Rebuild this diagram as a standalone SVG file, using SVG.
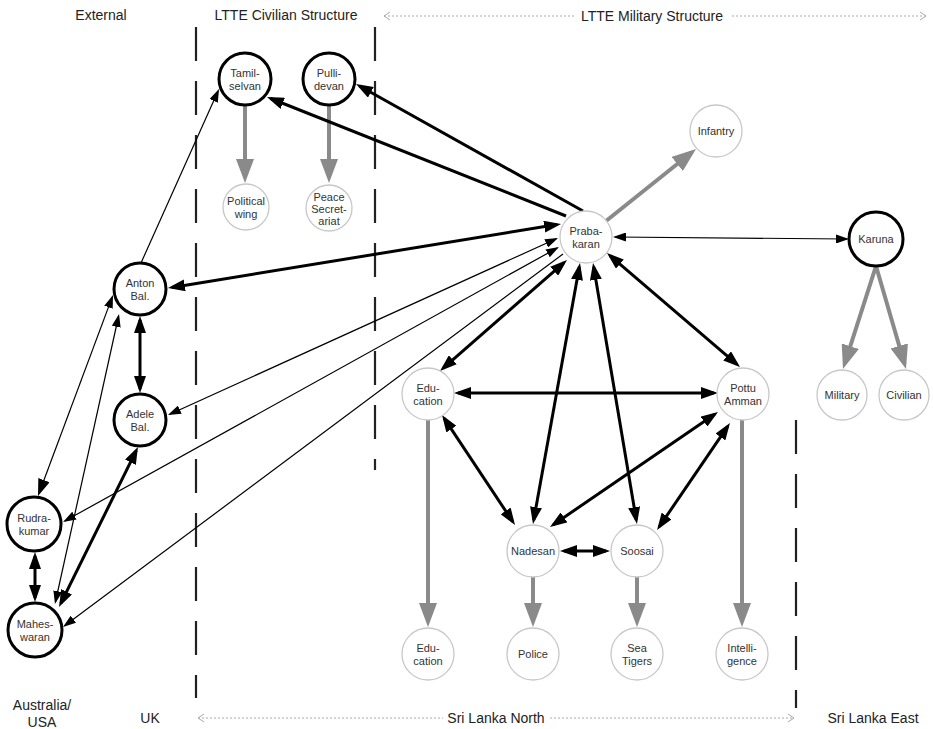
<svg xmlns="http://www.w3.org/2000/svg" width="933" height="729" viewBox="0 0 933 729">
<style>
text{font-family:"Liberation Sans",Arial,sans-serif;fill:#333;text-anchor:middle}
.hdr{font-size:14px;fill:#222}
.nt{font-size:11px}
.bold{fill:#fff;stroke:#000;stroke-width:3}
.lite{fill:#fff;stroke:#c8c8c8;stroke-width:1.3}
.div{stroke:#222;stroke-width:2.2;stroke-dasharray:34 20;fill:none}
.dot{stroke:#aaa;stroke-width:1.2;stroke-dasharray:2 2;fill:none}
.tk{stroke:#000;stroke-width:3;fill:none}
.tn{stroke:#000;stroke-width:1.2;fill:none}
.gr{stroke:#8a8a8a;stroke-width:4;fill:none}
</style>
<defs>
<marker id="hb" viewBox="0 0 17 12" refX="13" refY="6" markerWidth="17" markerHeight="12" markerUnits="userSpaceOnUse" orient="auto-start-reverse"><path d="M0,0L17,6L0,12z" fill="#000"/></marker>
<marker id="ht" viewBox="0 0 13 9" refX="11" refY="4.5" markerWidth="13" markerHeight="9" markerUnits="userSpaceOnUse" orient="auto-start-reverse"><path d="M0,0L13,4.5L0,9z" fill="#000"/></marker>
<marker id="hg" viewBox="0 0 24 18" refX="18" refY="9" markerWidth="24" markerHeight="18" markerUnits="userSpaceOnUse" orient="auto-start-reverse"><path d="M0,0L24,9L0,18z" fill="#8a8a8a"/></marker>
<marker id="ch" viewBox="0 0 8 10" refX="7" refY="5" markerWidth="8" markerHeight="10" markerUnits="userSpaceOnUse" orient="auto-start-reverse"><path d="M1,1L7,5L1,9" fill="none" stroke="#aaa" stroke-width="1"/></marker>
</defs>

<g id="dividers">
<line class="div" x1="196" y1="27" x2="196" y2="698"/>
<line class="div" x1="375" y1="27" x2="375" y2="470"/>
<line class="div" x1="796" y1="420" x2="796" y2="708"/>
</g>

<g id="labels">
<text class="hdr" x="101" y="20">External</text>
<text class="hdr" x="286" y="20">LTTE Civilian Structure</text>
<line class="dot" x1="384" y1="16" x2="926" y2="16" marker-start="url(#ch)" marker-end="url(#ch)"/>
<rect x="574" y="6" width="157" height="18" fill="#fff"/>
<text class="hdr" x="652" y="21">LTTE Military Structure</text>
<text class="hdr" x="42" y="710">Australia/</text>
<text class="hdr" x="42" y="727">USA</text>
<text class="hdr" x="150" y="723">UK</text>
<line class="dot" x1="198" y1="718" x2="794" y2="718" marker-start="url(#ch)" marker-end="url(#ch)"/>
<rect x="443" y="708" width="106" height="18" fill="#fff"/>
<text class="hdr" x="496" y="723">Sri Lanka North</text>
<text class="hdr" x="873" y="723">Sri Lanka East</text>
</g>

<g id="connectors">
<line class="gr" x1="245" y1="106" x2="245" y2="177" marker-end="url(#hg)"/>
<line class="gr" x1="329" y1="106" x2="329" y2="177" marker-end="url(#hg)"/>
<line class="gr" x1="606.3" y1="220.8" x2="691.3" y2="152.7" marker-end="url(#hg)"/>
<line class="gr" x1="876" y1="266" x2="844.8" y2="363.3" marker-end="url(#hg)"/>
<line class="gr" x1="876" y1="266" x2="904.3" y2="363.2" marker-end="url(#hg)"/>
<line class="gr" x1="428" y1="420" x2="428" y2="621" marker-end="url(#hg)"/>
<line class="gr" x1="533" y1="577" x2="533" y2="621" marker-end="url(#hg)"/>
<line class="gr" x1="637" y1="577" x2="637" y2="621" marker-end="url(#hg)"/>
<line class="gr" x1="742" y1="420" x2="742" y2="621" marker-end="url(#hg)"/>
<line class="tk" x1="566" y1="216" x2="270.7" y2="98.5" marker-end="url(#hb)"/>
<line class="tk" x1="583" y1="211" x2="359.5" y2="86" marker-end="url(#hb)"/>
<line class="tk" x1="171.9" y1="287.4" x2="557.1" y2="224.6" marker-start="url(#hb)" marker-end="url(#hb)"/>
<line class="tk" x1="564" y1="262.6" x2="443" y2="368.4" marker-start="url(#hb)" marker-end="url(#hb)"/>
<line class="tk" x1="579.3" y1="266.9" x2="533.7" y2="520.1" marker-start="url(#hb)" marker-end="url(#hb)"/>
<line class="tk" x1="593.7" y1="266.9" x2="636.3" y2="520.1" marker-start="url(#hb)" marker-end="url(#hb)"/>
<line class="tk" x1="610" y1="255.6" x2="737" y2="364.4" marker-start="url(#hb)" marker-end="url(#hb)"/>
<line class="tk" x1="458" y1="393" x2="714" y2="393" marker-start="url(#hb)" marker-end="url(#hb)"/>
<line class="tk" x1="444.2" y1="418.3" x2="512.8" y2="521.7" marker-start="url(#hb)" marker-end="url(#hb)"/>
<line class="tk" x1="714.7" y1="414.3" x2="553.3" y2="524.7" marker-start="url(#hb)" marker-end="url(#hb)"/>
<line class="tk" x1="727.7" y1="426.3" x2="659.3" y2="526.7" marker-start="url(#hb)" marker-end="url(#hb)"/>
<line class="tk" x1="564" y1="551" x2="606" y2="551" marker-start="url(#hb)" marker-end="url(#hb)"/>
<line class="tk" x1="140" y1="320" x2="140" y2="389" marker-start="url(#hb)" marker-end="url(#hb)"/>
<line class="tk" x1="35" y1="556" x2="35" y2="598" marker-start="url(#hb)" marker-end="url(#hb)"/>
<line class="tk" x1="136.2" y1="450.6" x2="60.8" y2="603.4" marker-start="url(#hb)" marker-end="url(#hb)"/>
<line class="tn" x1="141" y1="263" x2="218.2" y2="90.8" marker-end="url(#ht)"/>
<line class="tn" x1="169.8" y1="414.2" x2="556.2" y2="238.8" marker-start="url(#ht)" marker-end="url(#ht)"/>
<line class="tn" x1="64.8" y1="521" x2="557.2" y2="248" marker-start="url(#ht)" marker-end="url(#ht)"/>
<line class="tn" x1="563" y1="254" x2="64.6" y2="625.8" marker-end="url(#ht)"/>
<line class="tn" x1="615" y1="237" x2="847" y2="239" marker-start="url(#ht)" marker-end="url(#ht)"/>
<line class="tn" x1="112.3" y1="296.9" x2="39.4" y2="492.3" marker-start="url(#ht)" marker-end="url(#hb)"/>
<line class="tn" x1="118.6" y1="316" x2="55.4" y2="602" marker-start="url(#ht)" marker-end="url(#ht)"/>
</g>

<g id="tamilselvan"><circle class="bold" cx="245" cy="79" r="26"/><text class="nt" x="245" y="77">Tamil-</text><text class="nt" x="245" y="90">selvan</text></g>
<g id="pullidevan"><circle class="bold" cx="329" cy="79" r="26"/><text class="nt" x="329" y="77">Pulli-</text><text class="nt" x="329" y="90">devan</text></g>
<g id="political-wing"><circle class="lite" cx="246" cy="207" r="23"/><text class="nt" x="246" y="205">Political</text><text class="nt" x="246" y="218">wing</text></g>
<g id="peace-secretariat"><circle class="lite" cx="329" cy="208" r="23"/><text class="nt" x="329" y="201">Peace</text><text class="nt" x="329" y="213">Secret-</text><text class="nt" x="329" y="225">ariat</text></g>
<g id="prabakaran"><circle class="lite" cx="586" cy="237" r="26"/><text class="nt" x="586" y="235">Praba-</text><text class="nt" x="586" y="248">karan</text></g>
<g id="infantry"><circle class="lite" cx="716" cy="131" r="26"/><text class="nt" x="716" y="135">Infantry</text></g>
<g id="karuna"><circle class="bold" cx="876" cy="239" r="27"/><text class="nt" x="876" y="243">Karuna</text></g>
<g id="military"><circle class="lite" cx="842" cy="395" r="25"/><text class="nt" x="842" y="399">Military</text></g>
<g id="civilian"><circle class="lite" cx="904" cy="395" r="25"/><text class="nt" x="904" y="399">Civilian</text></g>
<g id="anton"><circle class="bold" cx="140" cy="289" r="26"/><text class="nt" x="140" y="287">Anton</text><text class="nt" x="140" y="300">Bal.</text></g>
<g id="adele"><circle class="bold" cx="140" cy="420" r="26"/><text class="nt" x="140" y="418">Adele</text><text class="nt" x="140" y="431">Bal.</text></g>
<g id="rudrakumar"><circle class="bold" cx="34" cy="524" r="27"/><text class="nt" x="34" y="522">Rudra-</text><text class="nt" x="34" y="535">kumar</text></g>
<g id="maheswaran"><circle class="bold" cx="35" cy="630" r="27"/><text class="nt" x="35" y="628">Mahes-</text><text class="nt" x="35" y="641">waran</text></g>
<g id="education-head"><circle class="lite" cx="428" cy="394" r="26"/><text class="nt" x="428" y="392">Edu-</text><text class="nt" x="428" y="405">cation</text></g>
<g id="pottu-amman"><circle class="lite" cx="743" cy="394" r="26"/><text class="nt" x="743" y="392">Pottu</text><text class="nt" x="743" y="405">Amman</text></g>
<g id="nadesan"><circle class="lite" cx="533" cy="551" r="26"/><text class="nt" x="533" y="555">Nadesan</text></g>
<g id="soosai"><circle class="lite" cx="637" cy="551" r="26"/><text class="nt" x="637" y="555">Soosai</text></g>
<g id="education"><circle class="lite" cx="428" cy="654" r="26"/><text class="nt" x="428" y="652">Edu-</text><text class="nt" x="428" y="665">cation</text></g>
<g id="police"><circle class="lite" cx="533" cy="654" r="26"/><text class="nt" x="533" y="658">Police</text></g>
<g id="sea-tigers"><circle class="lite" cx="637" cy="654" r="26"/><text class="nt" x="637" y="652">Sea</text><text class="nt" x="637" y="665">Tigers</text></g>
<g id="intelligence"><circle class="lite" cx="742" cy="654" r="26"/><text class="nt" x="742" y="652">Intelli-</text><text class="nt" x="742" y="665">gence</text></g>
</svg>
